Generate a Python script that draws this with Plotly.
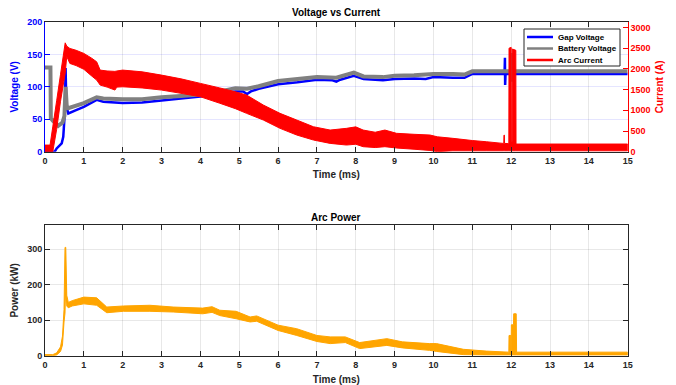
import plotly.graph_objects as go

# ---------------- data ----------------
# Gap voltage (V)
gap_t = [0, 0.25, 0.30, 0.43, 0.47, 0.51, 0.53, 0.55, 0.60, 0.80, 1.00, 1.33, 1.50, 2.00, 2.50,
         3.00, 3.50, 4.00, 4.50, 4.90, 5.10, 5.20, 5.30, 5.50, 6.00, 6.50, 7.00, 7.40, 7.50, 7.60,
         7.95, 8.20, 8.70, 9.00, 9.50, 9.80, 10.00, 10.50, 10.80, 11.00, 11.83, 11.84, 11.845,
         11.855, 15.0]
gap_v = [0, 0, 5, 13, 23, 60, 129, 70, 59, 64, 69, 80, 77, 75, 76,
         79, 82, 85, 90, 93, 93, 89, 93, 97, 104, 107, 111, 110, 108, 111,
         117, 112, 110, 112, 113, 112, 115, 114, 114, 120, 120, 145, 103,
         120, 120]

# Battery voltage (V)
bat_t = [0, 0.14, 0.15, 0.20, 0.34, 0.45, 0.50, 0.53, 0.56, 0.60, 1.00, 1.33, 1.50, 2.00, 2.50,
         3.00, 3.50, 4.00, 4.50, 4.90, 5.20, 5.50, 6.00, 6.50, 7.00, 7.50, 7.95, 8.20, 8.70,
         9.00, 9.50, 10.00, 10.50, 10.80, 11.00, 12.02, 12.03, 12.04, 12.05, 15.0]
bat_v = [130, 130, 52, 48, 40, 45, 55, 100, 70, 67, 75, 84, 82, 81, 81,
         84, 86, 88, 93, 98, 97, 101, 109, 112, 115, 114, 122, 116, 115,
         117, 118, 120, 120, 119, 124, 124, 152, 108, 124, 124]

# Arc current (A): upper / lower envelope of the noisy band
arc_t = [0.00, 0.13, 0.20, 0.30, 0.40, 0.52, 0.56, 0.64, 0.80, 1.00, 1.20, 1.33, 1.42, 1.60,
         1.80, 1.85, 2.00, 2.50, 3.00, 3.50, 4.00, 4.50, 4.90, 5.19, 5.62, 6.05, 6.48, 6.91,
         7.34, 7.76, 8.00, 8.19, 8.50, 8.75, 9.05, 9.50, 9.91, 10.10, 10.50, 11.00, 11.36,
         11.79, 11.81, 11.815, 11.825, 11.83, 11.94, 11.945, 12.00, 12.005, 12.025, 12.03,
         12.12, 12.125, 12.20, 15.00]
arc_hi = [160, 160, 600, 1230, 1870, 2630, 2550, 2494, 2450, 2374, 2260, 2171, 1971, 1950,
          1940, 1950, 1971, 1930, 1850, 1760, 1650, 1540, 1448, 1368, 1127, 926, 765, 603,
          523, 564, 600, 523, 470, 523, 444, 420, 403, 360, 323, 270, 241,
          201, 201, 400, 400, 200, 195, 2500, 2520, 250, 250, 2480,
          2450, 185, 185, 185]
arc_lo = [0, 0, 0, 540, 1220, 1900, 2300, 2132, 2080, 1990, 1830, 1730, 1609, 1560,
          1489, 1560, 1568, 1540, 1489, 1410, 1327, 1170, 1040, 926, 765, 564, 403, 282,
          201, 161, 180, 121, 100, 121, 89, 60, 30, 0, 20, 20, 20,
          20, 20, 20, 20, 20, 20, 20, 20, 20, 20, 20,
          20, 20, 20, 20]

# Arc power (kW): upper / lower envelope
pow_t = [0.00, 0.20, 0.30, 0.40, 0.45, 0.49, 0.515, 0.535, 0.56, 0.60, 0.70, 1.00, 1.33, 1.59,
         2.02, 2.70, 3.30, 4.06, 4.30, 4.50, 4.92, 5.28, 5.45, 6.00, 6.48, 7.00, 7.34, 7.73,
         8.10, 8.80, 9.20, 9.90, 10.08, 10.77, 11.36, 11.94, 11.945, 11.99, 11.995, 12.00,
         12.005, 12.06, 12.065, 12.13, 12.14, 15.00]
pow_hi = [3, 3, 8, 25, 55, 130, 305, 305, 170, 150, 155, 165, 163, 137,
          140, 142, 137, 134, 138, 128, 125, 109, 112, 86, 76, 57, 53, 53,
          37, 48, 39, 34, 34, 18, 13, 10, 57, 57, 10, 10,
          87, 87, 118, 118, 10, 10]
pow_lo = [0, 0, 2, 12, 30, 95, 120, 200, 140, 135, 140, 146, 142, 121,
          125, 125, 123, 118, 122, 113, 104, 95, 97, 71, 57, 40, 34, 37,
          20, 29, 22, 15, 12, 3, 2, 2, 2, 2, 2, 2,
          2, 2, 2, 2, 2, 2]

x_ticks = list(range(0, 16))
volt_ticks = [0, 50, 100, 150, 200]
curr_ticks = [0, 500, 1000, 1500, 2000, 2500, 3000]
pow_ticks = [0, 100, 200, 300]

legend_names = ["Gap Voltage", "Battery Voltage", "Arc Current"]

# ---------------- figure ----------------
W, H = 676, 385
FONT = "Liberation Sans"
BLUE = "#0000ff"
RED = "#ff0000"
GRAY = "#808080"
ORANGE = "#ffa500"
AX = "#262626"


def px(x):
    return x / W


def py(y):
    return (H - y) / H


fig = go.Figure()

fig.add_trace(go.Scatter(x=gap_t, y=gap_v, mode="lines", name=legend_names[0], showlegend=False,
                         line=dict(color=BLUE, width=2.5, simplify=False), xaxis="x", yaxis="y"))
fig.add_trace(go.Scatter(x=bat_t, y=bat_v, mode="lines", name=legend_names[1], showlegend=False,
                         line=dict(color=GRAY, width=4, simplify=False), xaxis="x", yaxis="y"))
fig.add_trace(go.Scatter(x=arc_t + arc_t[::-1], y=arc_hi + arc_lo[::-1], mode="lines",
                         name=legend_names[2], fill="toself", fillcolor=RED,
                         line=dict(color=RED, width=1, simplify=False),
                         showlegend=False, xaxis="x", yaxis="y2", hoverinfo="skip"))
fig.add_trace(go.Scatter(x=pow_t + pow_t[::-1], y=pow_hi + pow_lo[::-1], mode="lines",
                         name="Arc Power", fill="toself", fillcolor=ORANGE,
                         line=dict(color=ORANGE, width=1, simplify=False),
                         showlegend=False, xaxis="x2", yaxis="y3", hoverinfo="skip"))

tickfont = dict(family=FONT, size=9, weight="bold")
titlefont = dict(family=FONT, size=10, weight="bold")

xdom = [px(45), px(627.7)]
common_x = dict(range=[0, 15], tickvals=x_ticks, ticks="inside", ticklen=5, tickcolor=AX,
                showline=True, linecolor=AX, linewidth=1, mirror="ticks", zeroline=False,
                showgrid=True, gridcolor="rgba(0,0,0,0.09)", tickfont=dict(color=AX, **tickfont),
                domain=xdom, automargin=False)

# hand-built legend box (MATLAB style compact legend)
shapes = [dict(type="rect", xref="paper", yref="paper", x0=px(524), x1=px(620),
               y0=py(66), y1=py(29), fillcolor="white", line=dict(color=AX, width=1), layer="above")]
annotations = []
leg_colors = [BLUE, GRAY, RED]
for i, (name, col) in enumerate(zip(legend_names, leg_colors)):
    yy = 37 + i * 11.5
    shapes.append(dict(type="line", xref="paper", yref="paper", x0=px(527), x1=px(553),
                       y0=py(yy), y1=py(yy), line=dict(color=col, width=2.5), layer="above"))
    annotations.append(dict(text=name, x=px(556), y=py(yy), xref="paper", yref="paper",
                            showarrow=False, xanchor="left", yanchor="middle",
                            font=dict(family=FONT, size=8, weight="bold", color="black")))

annotations += [
    dict(text="Voltage vs Current", x=0.5 * (xdom[0] + xdom[1]), y=py(12),
         xref="paper", yref="paper", showarrow=False, xanchor="center", yanchor="middle",
         font=dict(family=FONT, size=10, weight="bold", color="black")),
    dict(text="Arc Power", x=0.5 * (xdom[0] + xdom[1]), y=py(217),
         xref="paper", yref="paper", showarrow=False, xanchor="center", yanchor="middle",
         font=dict(family=FONT, size=10, weight="bold", color="black")),
]

fig.update_layout(
    width=W, height=H,
    margin=dict(l=0, r=0, t=0, b=0),
    paper_bgcolor="white", plot_bgcolor="white",
    font=dict(family=FONT, color=AX),
    showlegend=False,
    xaxis=dict(anchor="y", title=dict(text="Time (ms)", font=dict(color=AX, **titlefont), standoff=6),
               **common_x),
    yaxis=dict(domain=[py(151.7), py(22)], range=[0, 200],
               tickvals=volt_ticks, ticks="inside", automargin=False,
               ticklen=5, tickcolor=BLUE, showline=True, linecolor=BLUE, linewidth=1,
               zeroline=False, showgrid=True, gridcolor="rgba(0,0,255,0.10)",
               tickfont=dict(color=BLUE, **tickfont), anchor="x",
               title=dict(text="Voltage (V)", font=dict(color=BLUE, **titlefont), standoff=6)),
    yaxis2=dict(overlaying="y", side="right", anchor="x", range=[0, 3133], tickvals=curr_ticks,
                ticks="inside", ticklen=5, tickcolor=RED, showline=True, linecolor=RED,
                linewidth=1, zeroline=False, showgrid=False, automargin=False,
                tickfont=dict(color=RED, **tickfont),
                title=dict(text="Current (A)", font=dict(color=RED, **titlefont), standoff=6)),
    xaxis2=dict(anchor="y3", title=dict(text="Time (ms)", font=dict(color=AX, **titlefont), standoff=7),
                **common_x),
    yaxis3=dict(domain=[py(355.7), py(225)], range=[0, 368],
                tickvals=pow_ticks, ticks="inside", automargin=False,
                ticklen=5, tickcolor=AX, showline=True, linecolor=AX, linewidth=1,
                mirror="ticks", zeroline=False, showgrid=True, gridcolor="rgba(0,0,0,0.09)",
                tickfont=dict(color=AX, **tickfont), anchor="x2",
                title=dict(text="Power (kW)", font=dict(color=AX, **titlefont), standoff=6)),
    shapes=shapes,
    annotations=annotations,
)

fig.write_html("out.html", config={"displayModeBar": False},
               post_script="document.body.style.margin='0px';")
